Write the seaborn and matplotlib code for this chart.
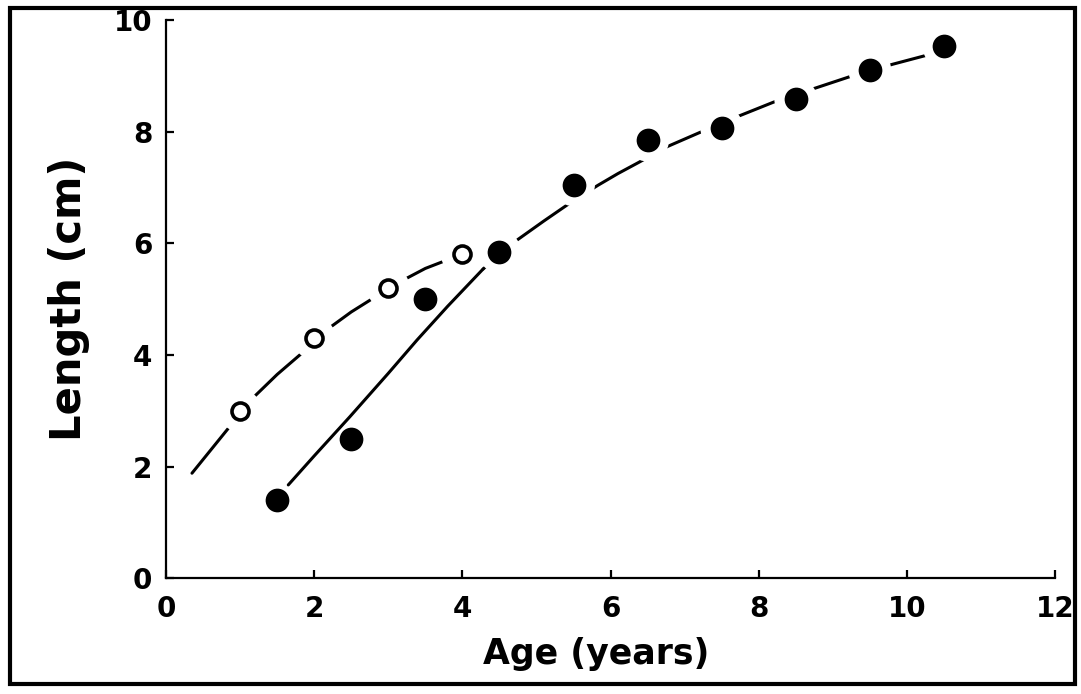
import numpy as np
import pandas as pd
import seaborn as sns
import matplotlib.pyplot as plt
from matplotlib.patches import Rectangle

sns.set_theme(style="ticks")
plt.rcParams['font.family'] = ['DejaVu Sans']

# datos
edad_abiertos = [1, 2, 3, 4]
long_abiertos = [3.0, 4.3, 5.2, 5.8]

edad_llenos = [1.5, 2.5, 3.5, 4.5, 5.5, 6.5, 7.5, 8.5, 9.5, 10.5]
long_llenos = [1.4, 2.5, 5.0, 5.85, 7.05, 7.85, 8.07, 8.58, 9.1, 9.53]

# curvas ajustadas (puntos leidos sobre las lineas)
curva_abiertos_x = [0.35, 0.85, 1.15, 1.5, 1.85, 2.2, 2.5, 2.8, 3.2, 3.5, 3.85]
curva_abiertos_y = [1.88, 2.70, 3.20, 3.65, 4.05, 4.48, 4.77, 5.02, 5.34, 5.55, 5.73]

curva_solida_x = [1.65, 2.0, 2.48, 3.0, 3.39, 3.8, 4.28]
curva_solida_y = [1.67, 2.19, 2.89, 3.67, 4.27, 4.87, 5.54]

curva_guiones_x = [4.28, 4.74, 5.1, 5.45, 5.83, 6.1, 6.38, 6.76, 7.28, 7.73, 8.2, 8.76, 9.26, 9.81, 10.38]
curva_guiones_y = [5.54, 6.06, 6.40, 6.72, 7.04, 7.25, 7.45, 7.73, 8.03, 8.28, 8.53, 8.78, 9.00, 9.21, 9.41]

fig, ax = plt.subplots(figsize=(10.81, 6.94), dpi=100)
fig.subplots_adjust(left=0.1536, right=0.976, bottom=0.167, top=0.971)

lw = 2.2
# curvas que se interrumpen en cada punto
sns.lineplot(x=curva_abiertos_x, y=curva_abiertos_y, sort=False, estimator=None,
             color="black", linewidth=lw, ax=ax)
sns.lineplot(x=curva_guiones_x, y=curva_guiones_y, sort=False, estimator=None,
             color="black", linewidth=lw, ax=ax)
for ln in ax.lines:
    ln.set_zorder(1)

# halo blanco alrededor de los puntos
todos_x = edad_abiertos + edad_llenos
todos_y = long_abiertos + long_llenos
halo = ax.scatter(todos_x, todos_y, s=950, color="white", edgecolors="none")
halo.set_zorder(2)

sns.lineplot(x=curva_solida_x, y=curva_solida_y, sort=False, estimator=None,
             color="black", linewidth=lw, ax=ax)
ax.lines[-1].set_zorder(3)

sns.scatterplot(x=edad_llenos, y=long_llenos, s=250, color="black", edgecolor="black",
                ax=ax, legend=False)
sns.scatterplot(x=edad_abiertos, y=long_abiertos, s=150, facecolor="white",
                edgecolor="black", linewidth=2.6, ax=ax, legend=False)
for col in ax.collections[-2:]:
    col.set_zorder(4)

ax.set_xlim(0, 12)
ax.set_ylim(0, 10)
ax.set_xticks(range(0, 13, 2))
ax.set_yticks(range(0, 11, 2))
sns.despine(ax=ax)
for s in ["left", "bottom"]:
    ax.spines[s].set_linewidth(1.6)
    ax.spines[s].set_color("black")
ax.tick_params(direction="in", length=6, width=1.6, colors="black", pad=10,
               labelsize=20)
ax.tick_params(axis="x", pad=12)
for t in ax.get_xticklabels() + ax.get_yticklabels():
    t.set_fontweight("bold")

ax.set_xlabel("Age (years)", fontsize=25, fontweight="bold", color="black")
ax.set_ylabel("Length (cm)", fontsize=30, fontweight="bold", color="black")
ax.xaxis.set_label_coords(0.484, -0.105)
ax.yaxis.set_label_coords(-0.085, 0.5)

# marco alrededor de toda la figura
fig.patches.append(Rectangle((0.009, 0.0144), 0.985, 0.974, transform=fig.transFigure,
                             fill=False, edgecolor="black", linewidth=3))

fig.savefig("out.png", dpi=100)
